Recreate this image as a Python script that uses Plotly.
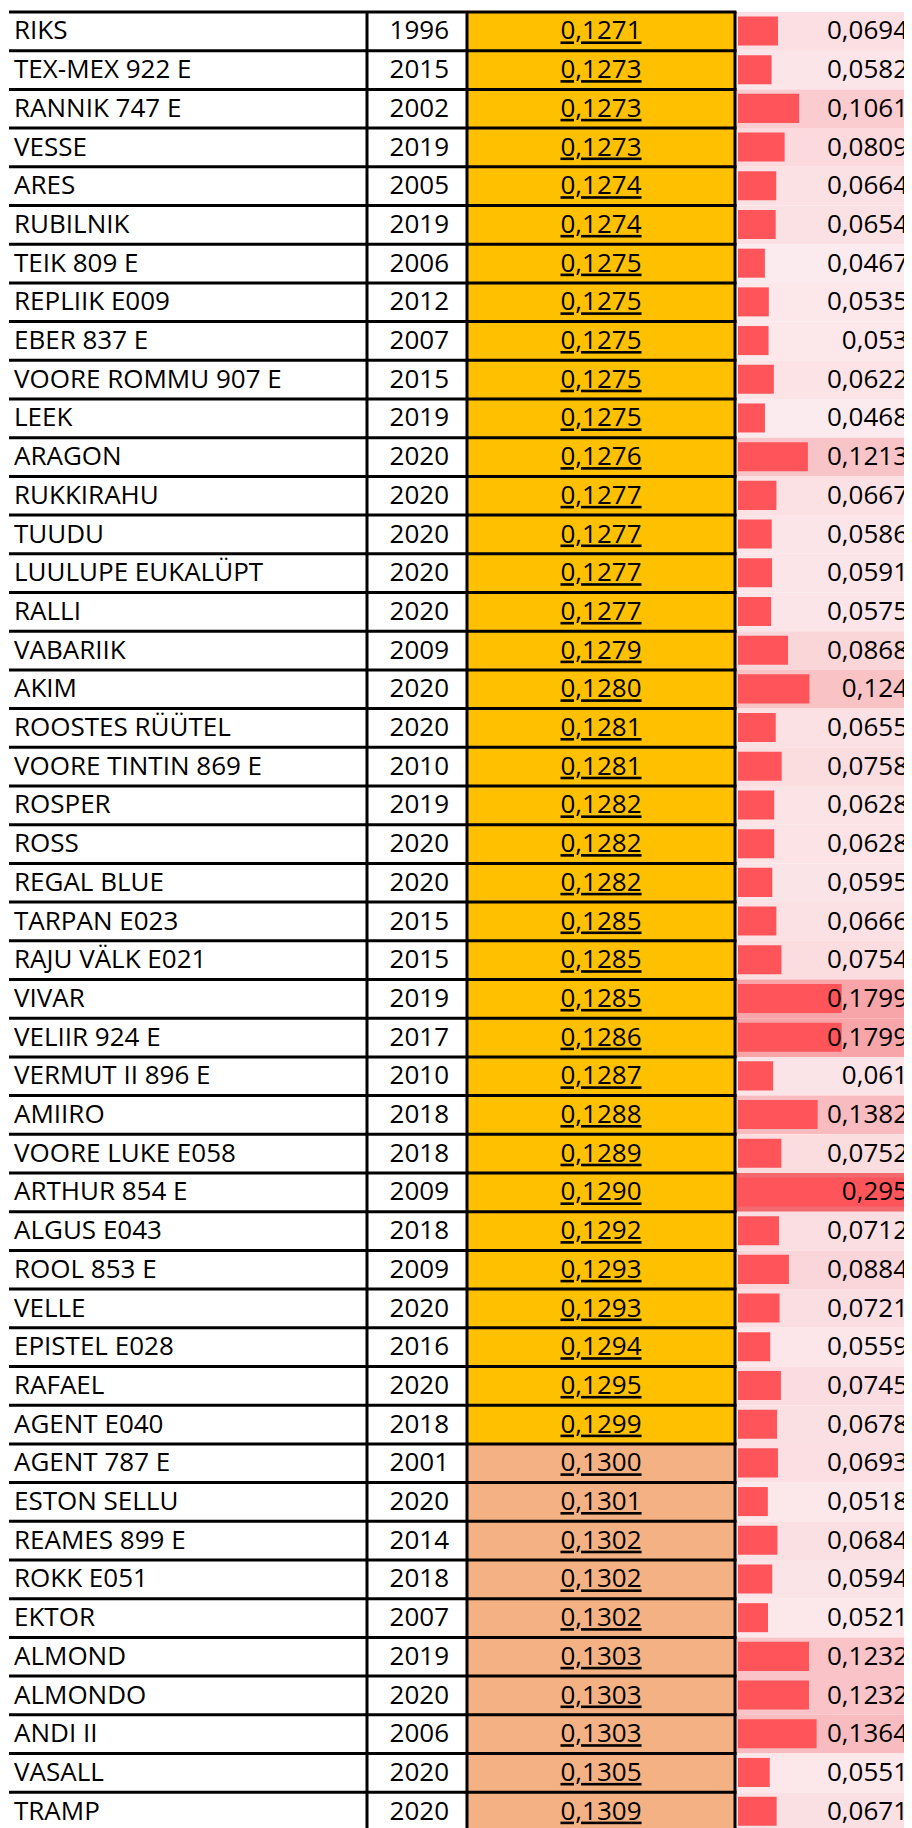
import plotly.graph_objects as go

# ---------------- data ----------------
names = ["RIKS", "TEX-MEX 922 E", "RANNIK 747 E", "VESSE", "ARES", "RUBILNIK", "TEIK 809 E",
         "REPLIIK E009", "EBER 837 E", "VOORE ROMMU 907 E", "LEEK", "ARAGON", "RUKKIRAHU", "TUUDU",
         "LUULUPE EUKALÜPT", "RALLI", "VABARIIK", "AKIM", "ROOSTES RÜÜTEL", "VOORE TINTIN 869 E",
         "ROSPER", "ROSS", "REGAL BLUE", "TARPAN E023", "RAJU VÄLK E021", "VIVAR", "VELIIR 924 E",
         "VERMUT II 896 E", "AMIIRO", "VOORE LUKE E058", "ARTHUR 854 E", "ALGUS E043", "ROOL 853 E",
         "VELLE", "EPISTEL E028", "RAFAEL", "AGENT E040", "AGENT 787 E", "ESTON SELLU",
         "REAMES 899 E", "ROKK E051", "EKTOR", "ALMOND", "ALMONDO", "ANDI II", "VASALL", "TRAMP"]

years = [1996, 2015, 2002, 2019, 2005, 2019, 2006, 2012, 2007, 2015, 2019, 2020, 2020, 2020,
         2020, 2020, 2009, 2020, 2020, 2010, 2019, 2020, 2020, 2015, 2015, 2019, 2017, 2010,
         2018, 2018, 2009, 2018, 2009, 2020, 2016, 2020, 2018, 2001, 2020, 2014, 2018, 2007,
         2019, 2020, 2006, 2020, 2020]

values = [0.1271, 0.1273, 0.1273, 0.1273, 0.1274, 0.1274, 0.1275, 0.1275, 0.1275, 0.1275,
          0.1275, 0.1276, 0.1277, 0.1277, 0.1277, 0.1277, 0.1279, 0.1280, 0.1281, 0.1281,
          0.1282, 0.1282, 0.1282, 0.1285, 0.1285, 0.1285, 0.1286, 0.1287, 0.1288, 0.1289,
          0.1290, 0.1292, 0.1293, 0.1293, 0.1294, 0.1295, 0.1299, 0.1300, 0.1301, 0.1302,
          0.1302, 0.1302, 0.1303, 0.1303, 0.1303, 0.1305, 0.1309]

second = [0.0694, 0.0582, 0.1061, 0.0809, 0.0664, 0.0654, 0.0467, 0.0535, 0.053, 0.0622,
          0.0468, 0.1213, 0.0667, 0.0586, 0.0591, 0.0575, 0.0868, 0.124, 0.0655, 0.0758,
          0.0628, 0.0628, 0.0595, 0.0666, 0.0754, 0.1799, 0.1799, 0.061, 0.1382, 0.0752,
          0.295, 0.0712, 0.0884, 0.0721, 0.0559, 0.0745, 0.0678, 0.0693, 0.0518, 0.0684,
          0.0594, 0.0521, 0.1232, 0.1232, 0.1364, 0.0551, 0.0671]

threshold = 0.13

# ---------------- layout constants (page-pixel x units, row units on y) ----------------
PAGE_W, PAGE_H = 912, 1828
OFF = 8                      # default body margin of the html page
FIG_W, FIG_H = PAGE_W - OFF, PAGE_H - OFF
TOP = 12.0
ROW_H = 38.7
X_LEFT = 9
X_NAME_END = 367
X_YEAR_END = 467
X_VAL_END = 735
X_RED_START = 736
X_BAR_START = 738
BAR_FULL = 170
FONT = "Open Sans"
FS = 26
TEXT_DY = 0.04

n = len(names)
rows = list(range(n))
centers = [i + 0.5 for i in rows]
tcenters = [c + TEXT_DY for c in centers]


def fmt4(v):
    return f"{v:.4f}".replace(".", ",")


def fmt_general(v):
    s = f"{v:.4f}".rstrip("0")
    return s.replace(".", ",")


def lerp_color(c1, c2, t):
    return "rgb(%d,%d,%d)" % tuple(round(a + (b - a) * t) for a, b in zip(c1, c2))


lo, hi = min(second), max(second)
light, dark = (252, 235, 238), (242, 105, 110)
red_bg = [lerp_color(light, dark, (v - lo) / (hi - lo)) for v in second]
val_colors = ["#FFC000" if v < threshold else "#F4B183" for v in values]

fig = go.Figure()

# orange / salmon value cells
fig.add_trace(go.Bar(orientation="h", y=centers, x=[X_VAL_END - X_YEAR_END] * n,
                     base=X_YEAR_END, width=1.0, marker=dict(color=val_colors, line=dict(width=0)),
                     hoverinfo="skip"))
# red column background (colour scale)
fig.add_trace(go.Bar(orientation="h", y=centers, x=[PAGE_W - X_RED_START] * n,
                     base=X_RED_START, width=1.0, marker=dict(color=red_bg, line=dict(width=0)),
                     hoverinfo="skip"))
# data bars
fig.add_trace(go.Bar(orientation="h", y=[i + 0.49 for i in rows],
                     x=[v / hi * BAR_FULL for v in second],
                     base=X_BAR_START, width=0.75, marker=dict(color="#FF555A", line=dict(width=0)),
                     hoverinfo="skip"))

# grid lines
hx, hy = [], []
for i in range(n + 1):
    hx += [X_LEFT, X_VAL_END + 1.5, None]
    hy += [i, i, None]
for xv in (X_NAME_END, X_YEAR_END, X_VAL_END):
    hx += [xv, xv, None]
    hy += [0, n, None]
fig.add_trace(go.Scatter(x=hx, y=hy, mode="lines", line=dict(color="black", width=3),
                         hoverinfo="skip"))

font = dict(family=FONT, size=FS, color="black")
fig.add_trace(go.Scatter(x=[X_LEFT + 5] * n, y=tcenters, mode="text", text=names,
                         textposition="middle right", textfont=font, hoverinfo="skip"))
fig.add_trace(go.Scatter(x=[X_YEAR_END - 18] * n, y=tcenters, mode="text",
                         text=[str(y) for y in years],
                         textposition="middle left", textfont=font, hoverinfo="skip"))
fig.add_trace(go.Scatter(x=[(X_YEAR_END + X_VAL_END) / 2] * n, y=tcenters, mode="text",
                         text=["<u>" + fmt4(v) + "</u>" for v in values],
                         textposition="middle center", textfont=font, hoverinfo="skip"))
fig.add_trace(go.Scatter(x=[PAGE_W - 4] * n, y=tcenters, mode="text",
                         text=[fmt_general(v) for v in second],
                         textposition="middle left", textfont=font, hoverinfo="skip"))

fig.update_layout(
    width=FIG_W, height=FIG_H, margin=dict(l=0, r=0, t=0, b=0),
    paper_bgcolor="white", plot_bgcolor="white",
    showlegend=False, barmode="overlay", hovermode=False,
    xaxis=dict(range=[OFF, PAGE_W], visible=False, fixedrange=True),
    yaxis=dict(range=[(PAGE_H - TOP) / ROW_H, (OFF - TOP) / ROW_H], visible=False, fixedrange=True),
)

fig.write_html("out.html")
